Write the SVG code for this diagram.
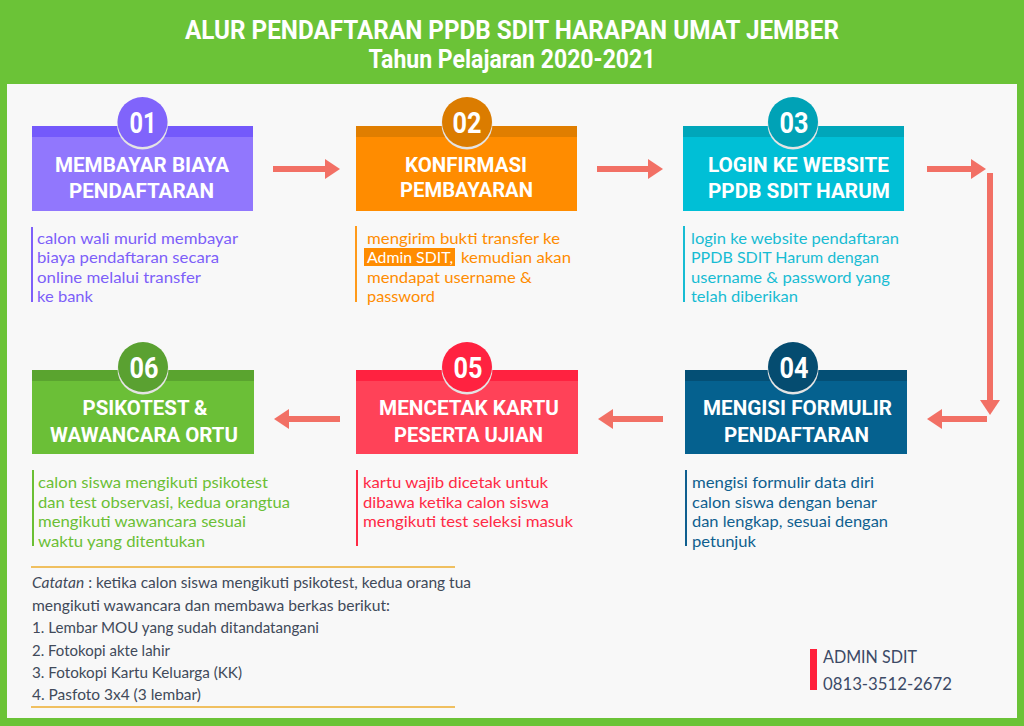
<svg xmlns="http://www.w3.org/2000/svg" width="1024" height="726" viewBox="0 0 1024 726">
<style>
.ttl{font-family:Roboto,"Liberation Sans",sans-serif;font-weight:bold;fill:#fff}
.hd{font-family:Roboto,"Liberation Sans",sans-serif;font-weight:bold;font-size:20px;fill:#fff;text-anchor:middle}
.num{font-family:Roboto,"Liberation Sans",sans-serif;font-weight:bold;font-size:30px;fill:#fff;text-anchor:middle}
.ds{font-family:Lato,"Open Sans",sans-serif;font-size:16px}
.nt{font-family:Lato,"Open Sans",sans-serif;font-size:15px;fill:#414a5a}
.adm{font-family:Lato,"Open Sans",sans-serif;font-size:18px;fill:#3c4a66}
.rim{fill:#e4e4e4}
.arr{stroke:#f27065;stroke-width:6;fill:none}
</style>
<defs>
<marker id="ah" markerUnits="userSpaceOnUse" viewBox="0 0 15 20" refX="0" refY="10" markerWidth="15" markerHeight="20" orient="auto">
<path d="M0,0 L15,10 L0,20 z" fill="#f27065"/>
</marker>
</defs>
<rect width="1024" height="726" fill="#6bc337"/>
<rect x="7" y="84" width="1010" height="634" fill="#f8f8f8"/>
<g id="title">
<text class="ttl" x="512" y="39" font-size="26" text-anchor="middle" textLength="654" lengthAdjust="spacingAndGlyphs">ALUR PENDAFTARAN PPDB SDIT HARAPAN UMAT JEMBER</text>
<text class="ttl" x="512" y="68" font-size="25" text-anchor="middle" textLength="287" lengthAdjust="spacingAndGlyphs">Tahun Pelajaran 2020-2021</text>
</g>

<g id="step01">
<rect x="32" y="126" width="221" height="85" fill="#9177fd"/>
<rect x="32" y="126" width="221" height="11" fill="#7459fb"/>
<circle class="rim" cx="142.5" cy="124" r="25.5"/>
<circle cx="142.5" cy="122" r="25" fill="#8064fb"/>
<text class="num" x="143" y="133" textLength="27" lengthAdjust="spacingAndGlyphs">01</text>
<text class="hd" x="142" y="172" textLength="174" lengthAdjust="spacingAndGlyphs">MEMBAYAR BIAYA</text>
<text class="hd" x="141.5" y="198" textLength="145" lengthAdjust="spacingAndGlyphs">PENDAFTARAN</text>
<rect x="31" y="227" width="2" height="75" fill="#7d5ff9"/>
<g class="ds" fill="#7d5ff9">
<text x="37" y="244" textLength="201" lengthAdjust="spacingAndGlyphs">calon wali murid membayar</text>
<text x="37" y="263" textLength="182" lengthAdjust="spacingAndGlyphs">biaya pendaftaran secara</text>
<text x="37" y="283" textLength="164" lengthAdjust="spacingAndGlyphs">online melalui transfer</text>
<text x="37" y="302" textLength="56" lengthAdjust="spacingAndGlyphs">ke bank</text>
</g>
</g>

<g id="step02">
<rect x="356" y="126" width="221" height="85" fill="#ff8c00"/>
<rect x="356" y="126" width="221" height="11" fill="#e07e00"/>
<circle class="rim" cx="467" cy="124" r="25.5"/>
<circle cx="467" cy="122" r="25" fill="#db7c00"/>
<text class="num" x="467" y="133" textLength="29" lengthAdjust="spacingAndGlyphs">02</text>
<text class="hd" x="466" y="172" textLength="122" lengthAdjust="spacingAndGlyphs">KONFIRMASI</text>
<text class="hd" x="466.5" y="197" textLength="133" lengthAdjust="spacingAndGlyphs">PEMBAYARAN</text>
<rect x="355" y="226" width="2" height="76" fill="#ff9a1a"/>
<rect x="364" y="248" width="91" height="18" fill="#ff8c00"/>
<g class="ds" fill="#ff8c00">
<text x="367" y="244" textLength="193" lengthAdjust="spacingAndGlyphs">mengirim bukti transfer ke</text>
<text x="367" y="263" fill="#fff" textLength="86" lengthAdjust="spacingAndGlyphs">Admin SDIT,</text>
<text x="461" y="263" textLength="110" lengthAdjust="spacingAndGlyphs">kemudian akan</text>
<text x="367" y="283" textLength="165" lengthAdjust="spacingAndGlyphs">mendapat username &amp;</text>
<text x="367" y="302" textLength="68" lengthAdjust="spacingAndGlyphs">password</text>
</g>
</g>

<g id="step03">
<rect x="683" y="126" width="221" height="85" fill="#00bfd6"/>
<rect x="683" y="126" width="221" height="11" fill="#00a6ba"/>
<circle class="rim" cx="793" cy="124" r="25.5"/>
<circle cx="793" cy="122" r="25" fill="#00a2b6"/>
<text class="num" x="794" y="133" textLength="29" lengthAdjust="spacingAndGlyphs">03</text>
<text class="hd" x="798.5" y="172" textLength="181" lengthAdjust="spacingAndGlyphs">LOGIN KE WEBSITE</text>
<text class="hd" x="799" y="198" textLength="182" lengthAdjust="spacingAndGlyphs">PPDB SDIT HARUM</text>
<rect x="683" y="226" width="2" height="76" fill="#17bcd3"/>
<g class="ds" fill="#17bcd3">
<text x="691" y="244" textLength="208" lengthAdjust="spacingAndGlyphs">login ke website pendaftaran</text>
<text x="691" y="263" textLength="188" lengthAdjust="spacingAndGlyphs">PPDB SDIT Harum dengan</text>
<text x="691" y="283" textLength="199" lengthAdjust="spacingAndGlyphs">username &amp; password yang</text>
<text x="691" y="302" textLength="107" lengthAdjust="spacingAndGlyphs">telah diberikan</text>
</g>
</g>

<g id="step04">
<rect x="685" y="370" width="222" height="84" fill="#05618f"/>
<rect x="685" y="370" width="222" height="11" fill="#044f75"/>
<circle class="rim" cx="793" cy="369" r="25.5"/>
<circle cx="793" cy="367" r="25" fill="#054c70"/>
<text class="num" x="794" y="378" textLength="29" lengthAdjust="spacingAndGlyphs">04</text>
<text class="hd" x="797.5" y="415" textLength="189" lengthAdjust="spacingAndGlyphs">MENGISI FORMULIR</text>
<text class="hd" x="796.5" y="442" textLength="145" lengthAdjust="spacingAndGlyphs">PENDAFTARAN</text>
<rect x="685" y="470" width="2" height="76" fill="#0f5f8f"/>
<g class="ds" fill="#0f5f8f">
<text x="692" y="488" textLength="182" lengthAdjust="spacingAndGlyphs">mengisi formulir data diri</text>
<text x="692" y="507.5" textLength="185" lengthAdjust="spacingAndGlyphs">calon siswa dengan benar</text>
<text x="692" y="527" textLength="196" lengthAdjust="spacingAndGlyphs">dan lengkap, sesuai dengan</text>
<text x="692" y="546.5" textLength="64" lengthAdjust="spacingAndGlyphs">petunjuk</text>
</g>
</g>

<g id="step05">
<rect x="356" y="370" width="222" height="84" fill="#ff4258"/>
<rect x="356" y="370" width="222" height="11" fill="#ff2240"/>
<circle class="rim" cx="467" cy="369" r="25.5"/>
<circle cx="467" cy="367" r="25" fill="#ff2240"/>
<text class="num" x="468" y="378" textLength="29" lengthAdjust="spacingAndGlyphs">05</text>
<text class="hd" x="469" y="415" textLength="180" lengthAdjust="spacingAndGlyphs">MENCETAK KARTU</text>
<text class="hd" x="468.5" y="442" textLength="149" lengthAdjust="spacingAndGlyphs">PESERTA UJIAN</text>
<rect x="356" y="470" width="2" height="76" fill="#ff2a45"/>
<g class="ds" fill="#ff2a45">
<text x="363" y="488" textLength="185" lengthAdjust="spacingAndGlyphs">kartu wajib dicetak untuk</text>
<text x="363" y="507.5" textLength="186" lengthAdjust="spacingAndGlyphs">dibawa ketika calon siswa</text>
<text x="363" y="527" textLength="210" lengthAdjust="spacingAndGlyphs">mengikuti test seleksi masuk</text>
</g>
</g>

<g id="step06">
<rect x="32" y="370" width="222" height="84" fill="#6bbf37"/>
<rect x="32" y="370" width="222" height="11" fill="#5aa42f"/>
<circle class="rim" cx="143" cy="369" r="25.5"/>
<circle cx="143" cy="367" r="25" fill="#5aa131"/>
<text class="num" x="144" y="378" textLength="29" lengthAdjust="spacingAndGlyphs">06</text>
<text class="hd" x="145" y="415" textLength="125" lengthAdjust="spacingAndGlyphs">PSIKOTEST &amp;</text>
<text class="hd" x="144" y="442" textLength="188" lengthAdjust="spacingAndGlyphs">WAWANCARA ORTU</text>
<rect x="32" y="470" width="2" height="76" fill="#6bbf35"/>
<g class="ds" fill="#6bbf35">
<text x="38" y="488" textLength="230" lengthAdjust="spacingAndGlyphs">calon siswa mengikuti psikotest</text>
<text x="38" y="507.5" textLength="252" lengthAdjust="spacingAndGlyphs">dan test observasi, kedua orangtua</text>
<text x="38" y="527" textLength="208" lengthAdjust="spacingAndGlyphs">mengikuti wawancara sesuai</text>
<text x="38" y="546.5" textLength="167" lengthAdjust="spacingAndGlyphs">waktu yang ditentukan</text>
</g>
</g>

<g id="connectors">
<line class="arr" x1="273" y1="169" x2="325" y2="169" marker-end="url(#ah)"/>
<line class="arr" x1="597" y1="169" x2="648" y2="169" marker-end="url(#ah)"/>
<line class="arr" x1="927" y1="169" x2="971" y2="169" marker-end="url(#ah)"/>
<line class="arr" x1="990" y1="173" x2="990" y2="400" marker-end="url(#ah)"/>
<line class="arr" x1="987" y1="419" x2="942" y2="419" marker-end="url(#ah)"/>
<line class="arr" x1="663" y1="419" x2="613" y2="419" marker-end="url(#ah)"/>
<line class="arr" x1="340" y1="419" x2="289" y2="419" marker-end="url(#ah)"/>
</g>

<g id="notes">
<rect x="31" y="566" width="424" height="2" fill="#f0c060"/>
<rect x="31" y="706" width="424" height="2" fill="#f0c060"/>
<text class="nt" x="32" y="588" textLength="439" lengthAdjust="spacingAndGlyphs"><tspan font-style="italic">Catatan</tspan> : ketika calon siswa mengikuti psikotest, kedua orang tua</text>
<text class="nt" x="32" y="611" textLength="358" lengthAdjust="spacingAndGlyphs">mengikuti wawancara dan membawa berkas berikut:</text>
<text class="nt" x="32" y="633" textLength="287" lengthAdjust="spacingAndGlyphs">1.  Lembar MOU yang sudah ditandatangani</text>
<text class="nt" x="32" y="656" textLength="138" lengthAdjust="spacingAndGlyphs">2. Fotokopi akte lahir</text>
<text class="nt" x="32" y="678" textLength="210" lengthAdjust="spacingAndGlyphs">3. Fotokopi Kartu Keluarga (KK)</text>
<text class="nt" x="32" y="700" textLength="169" lengthAdjust="spacingAndGlyphs">4. Pasfoto 3x4 (3 lembar)</text>
</g>

<g id="admin">
<rect x="810" y="649" width="7" height="41" fill="#ff1f3a"/>
<text class="adm" x="823" y="663" textLength="94" lengthAdjust="spacingAndGlyphs">ADMIN SDIT</text>
<text class="adm" x="823" y="690" textLength="129" lengthAdjust="spacingAndGlyphs">0813-3512-2672</text>
</g>
</svg>
